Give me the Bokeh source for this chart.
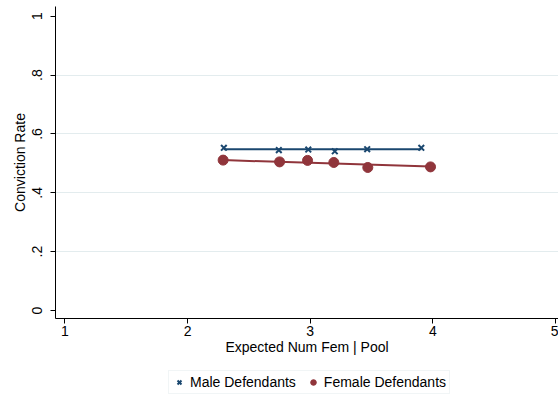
from bokeh.plotting import figure
from bokeh.models import Legend, LegendItem, FixedTicker, Range1d
from bokeh.layouts import column
from bokeh.embed import file_html
from bokeh.resources import INLINE

# ---- data ----
male_x = [2.296, 2.744, 2.984, 3.200, 3.464, 3.905]
male_y = [0.553, 0.545, 0.547, 0.541, 0.548, 0.553]
female_x = [2.290, 2.750, 2.978, 3.192, 3.469, 3.980]
female_y = [0.511, 0.505, 0.510, 0.503, 0.486, 0.488]
male_fit_x = [2.296, 3.905]
male_fit_y = [0.548, 0.548]
female_fit_x = [2.290, 3.980]
female_fit_y = [0.511, 0.489]
x_ticks = [1, 2, 3, 4, 5]
y_ticks = [0, 0.2, 0.4, 0.6, 0.8, 1]
y_tick_labels = ["0", ".2", ".4", ".6", ".8", "1"]
grid_ticks = [0.2, 0.4, 0.6, 0.8]
series_labels = ["Male Defendants", "Female Defendants"]

MALE = "#1a476f"
FEMALE = "#90353b"
FONT = "Liberation Sans"

p = figure(width=558, height=361, output_backend="svg", toolbar_location=None,
           x_range=Range1d(0.924, 5.023), y_range=Range1d(-0.0272, 1.033),
           min_border_left=55, min_border_right=0, min_border_top=6, min_border_bottom=43)
p.outline_line_color = None
p.background_fill_color = "white"
p.border_fill_color = "white"

p.xgrid.visible = False
p.ygrid.ticker = FixedTicker(ticks=grid_ticks)
p.ygrid.grid_line_color = "#e3ecee"
p.ygrid.grid_line_width = 1

for ax in (p.xaxis[0], p.yaxis[0]):
    ax.axis_line_color = "black"
    ax.major_tick_line_color = "black"
    ax.minor_tick_line_color = None
    ax.major_tick_out = 5
    ax.major_tick_in = 0
    ax.major_label_text_font = FONT
    ax.major_label_text_font_size = "14px"
    ax.major_label_text_color = "black"
    ax.axis_label_text_font = FONT
    ax.axis_label_text_font_size = "14px"
    ax.axis_label_text_font_style = "normal"
    ax.axis_label_text_color = "black"

p.xaxis.ticker = FixedTicker(ticks=x_ticks)
p.xaxis.axis_label = "Expected Num Fem | Pool"
p.xaxis.major_label_standoff = 2
p.xaxis.axis_label_standoff = 0

p.yaxis.ticker = FixedTicker(ticks=y_ticks)
p.yaxis.major_label_overrides = {t: l for t, l in zip(y_ticks, y_tick_labels)}
p.yaxis.major_label_orientation = "vertical"
p.yaxis.axis_label = "Conviction Rate"
p.yaxis.major_label_standoff = 8
p.yaxis.axis_label_standoff = 2

p.line(male_fit_x, male_fit_y, line_color=MALE, line_width=2)
p.line(female_fit_x, female_fit_y, line_color=FEMALE, line_width=2)
p.scatter(male_x, male_y, marker="x", size=8, line_color=MALE, line_width=2)
p.scatter(female_x, female_y, marker="circle", size=10, fill_color=FEMALE, line_color=FEMALE)

# ---- legend strip below the plot (its series lie outside its range, only the key shows) ----
lp = figure(width=558, height=33, output_backend="svg", toolbar_location=None,
            x_range=Range1d(0, 1), y_range=Range1d(0, 1),
            x_axis_location=None, y_axis_location=None,
            min_border_left=55, min_border_right=0, min_border_top=0, min_border_bottom=0)
lp.outline_line_color = None
lp.grid.visible = False
lp.background_fill_color = "white"
lp.border_fill_color = "white"
lm = lp.scatter(x=male_x, y=male_y, marker="x", size=7, line_color=MALE, line_width=2)
lf = lp.scatter(x=female_x, y=female_y, marker="circle", size=9, fill_color=FEMALE, line_color=FEMALE)
lm.visible = True
lp.x_range.start = 5.5
lp.x_range.end = 6.5

legend = Legend(items=[LegendItem(label=series_labels[0], renderers=[lm]),
                       LegendItem(label=series_labels[1], renderers=[lf])],
                orientation="horizontal", location=(113, 0))
legend.label_text_font = FONT
legend.label_text_font_size = "14px"
legend.label_text_color = "black"
legend.border_line_color = "#e3ecee"
legend.border_line_width = 1
legend.background_fill_color = "white"
legend.padding = 3
legend.spacing = 10
legend.glyph_width = 14
legend.glyph_height = 16
legend.label_height = 16
legend.label_standoff = 4
legend.margin = 0
lp.add_layout(legend, "center")

layout = column(p, lp, spacing=0)
open("out.html", "w").write(file_html(layout, INLINE))
